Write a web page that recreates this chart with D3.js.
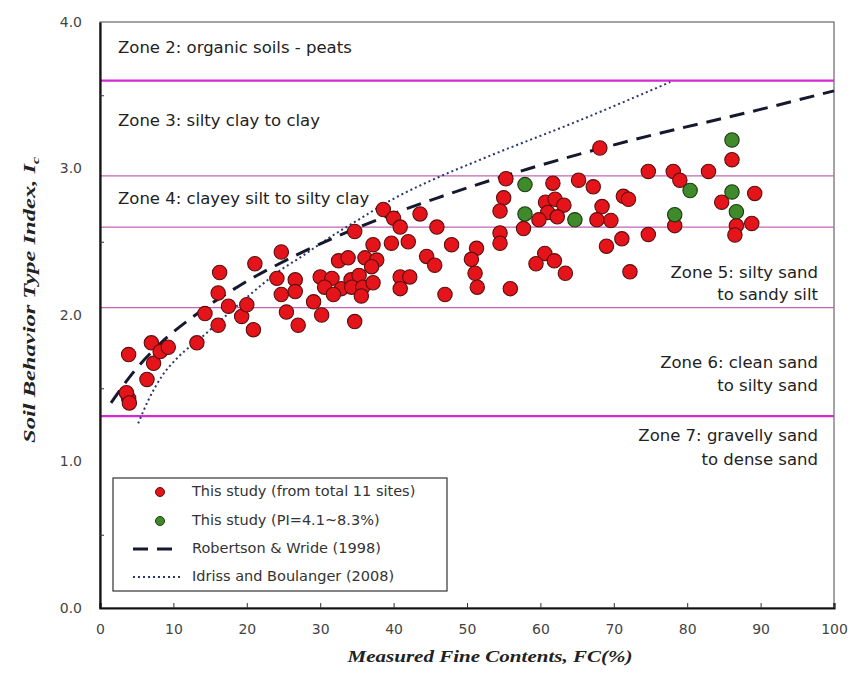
<!DOCTYPE html>
<html><head><meta charset="utf-8">
<script src="https://cdn.jsdelivr.net/npm/d3@7/dist/d3.min.js"></script>
<style>body{margin:0;background:#fff}</style>
</head><body><svg id="c" width="852" height="673"></svg>
<script>
// ---------- data ----------
const xTicks = [0,10,20,30,40,50,60,70,80,90,100];
const yTicks = [0,1,2,3,4];
const zoneBounds = [3.6, 2.95, 2.6, 2.05, 1.31];
const zoneLeftLabels = ["Zone 2: organic soils - peats","Zone 3: silty clay to clay","Zone 4: clayey silt to silty clay"];
const zoneLeftIc = [3.82, 3.32, 2.79];
const zoneRightLabels = ["Zone 5: silty sand","to sandy silt","Zone 6: clean sand","to silty sand","Zone 7: gravelly sand","to dense sand"];
const zoneRightIc = [2.28, 2.13, 1.67, 1.51, 1.17, 1.01];

const redFC = [3.9,3.9,3.6,4.0,6.4,7.0,7.3,8.2,9.3,13.2,14.3,16.1,16.1,16.3,17.5,19.3,20.0,20.9,21.1,24.7,24.1,24.7,26.6,26.6,25.4,27.0,29.1,30.2,30.0,
  31.6,30.6,32.9,31.8,34.2,35.3,34.3,35.8,35.6,37.2,32.5,33.8,36.1,37.7,37.0,34.7,38.6,40.0,43.6,45.9,40.9,37.2,39.7,42.0,40.9,42.2,40.9,44.5,45.6,47.0,47.9,34.7,
  51.3,50.6,51.1,51.4,55.9,
  55.3,55.0,54.5,54.5,54.5,57.7,61.7,65.2,67.2,68.1,71.3,72.0,74.7,78.1,79.0,82.9,86.1,84.7,89.2,88.8,86.7,86.5,78.3,60.7,62.0,63.2,61.0,62.3,59.8,68.4,67.7,69.6,69.0,71.1,74.7,72.2,60.6,61.9,59.4,63.4];
const redIc = [1.73,1.43,1.47,1.40,1.56,1.81,1.67,1.75,1.78,1.81,2.01,1.93,2.15,2.29,2.06,1.99,2.07,1.90,2.35,2.43,2.25,2.14,2.24,2.16,2.02,1.93,2.09,2.00,2.26,
  2.25,2.19,2.18,2.14,2.24,2.27,2.19,2.19,2.13,2.22,2.37,2.39,2.39,2.375,2.33,2.57,2.72,2.66,2.69,2.60,2.60,2.48,2.49,2.50,2.26,2.26,2.18,2.40,2.34,2.14,2.48,1.955,
  2.455,2.38,2.285,2.19,2.18,
  2.93,2.80,2.71,2.56,2.49,2.59,2.90,2.92,2.875,3.14,2.81,2.79,2.98,2.98,2.92,2.98,3.06,2.77,2.83,2.625,2.61,2.546,2.61,2.77,2.79,2.75,2.70,2.67,2.65,2.74,2.65,2.645,2.47,2.52,2.55,2.295,2.42,2.37,2.35,2.285];
const greenFC = [57.9,57.9,64.7,78.3,80.4,86.1,86.1,86.7];
const greenIc = [2.89,2.69,2.65,2.685,2.85,3.195,2.84,2.705];

// Robertson & Wride (1998) curve
const rwFC = [1.5,4.4,8.1,13.0,19.0,26.4,35.3,46.0,58.5,73.0,89.7,100];
const rwIc = [1.40,1.60,1.80,2.00,2.20,2.40,2.60,2.80,3.00,3.20,3.40,3.53];
// Idriss and Boulanger (2008) curve
const ibFC = [5.2,6.6,8.4,10.7,13.9,17.5,20.7,24.7,27.5,30.7,35.2,40.6,44.3,51.8,65.4,77.7];
const ibIc = [1.26,1.42,1.58,1.715,1.85,2.01,2.15,2.31,2.40,2.51,2.65,2.81,2.90,3.06,3.33,3.59];

const legendLabels = ["This study (from total 11 sites)","This study (PI=4.1~8.3%)","Robertson & Wride (1998)","Idriss and Boulanger (2008)"];

// ---------- chart ----------
const W = 852, H = 673;
const m = {left:100, top:22, right:18, bottom:65};
const svg = d3.select("#c");
const x = d3.scaleLinear().domain([0,100]).range([m.left, W-m.right]);
const y = d3.scaleLinear().domain([0,4]).range([H-m.bottom, m.top]);

const RED = "#e5141b", GREEN = "#3f8a2a";

// frame (top/right)
svg.append("rect").attr("x",x(0)).attr("y",y(4)).attr("width",x(100)-x(0)).attr("height",y(0)-y(4))
  .attr("fill","none").attr("stroke","#666").attr("stroke-width",1.2);

// zone boundary lines
svg.append("g").selectAll("line").data(zoneBounds).join("line")
  .attr("x1",x(0)).attr("x2",x(100)).attr("y1",d=>y(d)).attr("y2",d=>y(d))
  .attr("stroke",(d,i)=> (i===0||i===4) ? "#d42ad4" : "#c266b4")
  .attr("stroke-width",(d,i)=> (i===0||i===4) ? 2.2 : 1.3);

// zone labels
const zf = "'DejaVu Sans', sans-serif";
svg.append("g").selectAll("text").data(zoneLeftLabels).join("text")
  .attr("x", x(0)+18).attr("y",(d,i)=>y(zoneLeftIc[i])).attr("dominant-baseline","middle")
  .attr("font-family",zf).attr("font-size",16.5).attr("fill","#222").text(d=>d);
svg.append("g").selectAll("text").data(zoneRightLabels).join("text")
  .attr("x", x(100)-16).attr("y",(d,i)=>y(zoneRightIc[i])).attr("dominant-baseline","middle")
  .attr("text-anchor","end")
  .attr("font-family",zf).attr("font-size",16.5).attr("fill","#222").text(d=>d);

// curves
const lineGen = d3.line().curve(d3.curveMonotoneX);
svg.append("path").attr("d", lineGen(ibFC.map((v,i)=>[x(v),y(ibIc[i])])))
  .attr("fill","none").attr("stroke","#2b3570").attr("stroke-width",2).attr("stroke-dasharray","2,3");
svg.append("path").attr("d", lineGen(rwFC.map((v,i)=>[x(v),y(rwIc[i])])))
  .attr("fill","none").attr("stroke","#16182e").attr("stroke-width",3).attr("stroke-dasharray","15,9");

// points
svg.append("g").selectAll("circle").data(redFC).join("circle")
  .attr("cx",d=>x(d)).attr("cy",(d,i)=>y(redIc[i])).attr("r",7.2)
  .attr("fill",RED).attr("stroke","#5a0f0f").attr("stroke-width",1.1);
svg.append("g").selectAll("circle").data(greenFC).join("circle")
  .attr("cx",d=>x(d)).attr("cy",(d,i)=>y(greenIc[i])).attr("r",7.2)
  .attr("fill",GREEN).attr("stroke","#1e3a12").attr("stroke-width",1.1);

// axes
const tf = "'DejaVu Sans', sans-serif";
const xAxis = svg.append("g").attr("transform",`translate(0,${y(0)})`)
  .call(d3.axisBottom(x).tickValues(xTicks).tickSize(-5).tickPadding(16).tickFormat(d3.format("d")));
xAxis.select(".domain").attr("stroke","#111").attr("stroke-width",2.2);
xAxis.selectAll(".tick line").attr("stroke","#333");
xAxis.selectAll("text").attr("font-family",tf).attr("font-size",14).attr("fill","#444");

const yAxis = svg.append("g").attr("transform",`translate(${x(0)},0)`)
  .call(d3.axisLeft(y).tickValues(yTicks).tickSize(0).tickPadding(18).tickFormat(d3.format(".1f")));
yAxis.select(".domain").attr("stroke","#111").attr("stroke-width",2.2);
yAxis.selectAll("text").attr("font-family",tf).attr("font-size",14).attr("fill","#444");
svg.append("g").attr("transform",`translate(${x(0)},0)`)
  .call(d3.axisRight(y).tickValues([0.5,1.5,2.5,3.5]).tickSize(4).tickFormat(""))
  .call(g=>g.select(".domain").remove())
  .selectAll("line").attr("stroke","#333");

// axis titles
svg.append("text").attr("x",490).attr("y",662).attr("text-anchor","middle")
  .attr("font-family","'Liberation Serif', serif").attr("font-style","italic").attr("font-weight","bold")
  .attr("font-size",17).attr("fill","#222")
  .attr("textLength",285).attr("lengthAdjust","spacingAndGlyphs")
  .text("Measured Fine Contents, FC(%)");
const yt = svg.append("text").attr("transform","translate(35,300) rotate(-90)").attr("text-anchor","middle")
  .attr("font-family","'Liberation Serif', serif").attr("font-style","italic").attr("font-weight","bold")
  .attr("font-size",17).attr("fill","#222")
  .attr("textLength",286).attr("lengthAdjust","spacingAndGlyphs");
yt.append("tspan").text("Soil Behavior Type Index, I");
yt.append("tspan").attr("font-size",11).attr("dy",4).text("c");

// legend
const lg = svg.append("g");
lg.append("rect").attr("x",113).attr("y",478).attr("width",334).attr("height",113)
  .attr("fill","#fff").attr("stroke","#333").attr("stroke-width",1.2);
const ly = [492,521,549,577];
lg.selectAll("text").data(legendLabels).join("text")
  .attr("x",192).attr("y",(d,i)=>ly[i]).attr("dominant-baseline","middle")
  .attr("font-family",zf).attr("font-size",14.5).attr("fill","#333").text(d=>d);
lg.append("circle").attr("cx",160).attr("cy",ly[0]).attr("r",4.5).attr("fill",RED).attr("stroke","#5a0f0f");
lg.append("circle").attr("cx",160).attr("cy",ly[1]).attr("r",4.5).attr("fill",GREEN).attr("stroke","#1e3a12");
lg.append("line").attr("x1",133).attr("x2",178).attr("y1",ly[2]).attr("y2",ly[2])
  .attr("stroke","#16182e").attr("stroke-width",3).attr("stroke-dasharray","15,9");
lg.append("line").attr("x1",133).attr("x2",183).attr("y1",ly[3]).attr("y2",ly[3])
  .attr("stroke","#2b3570").attr("stroke-width",2).attr("stroke-dasharray","2,3");
</script></body></html>
